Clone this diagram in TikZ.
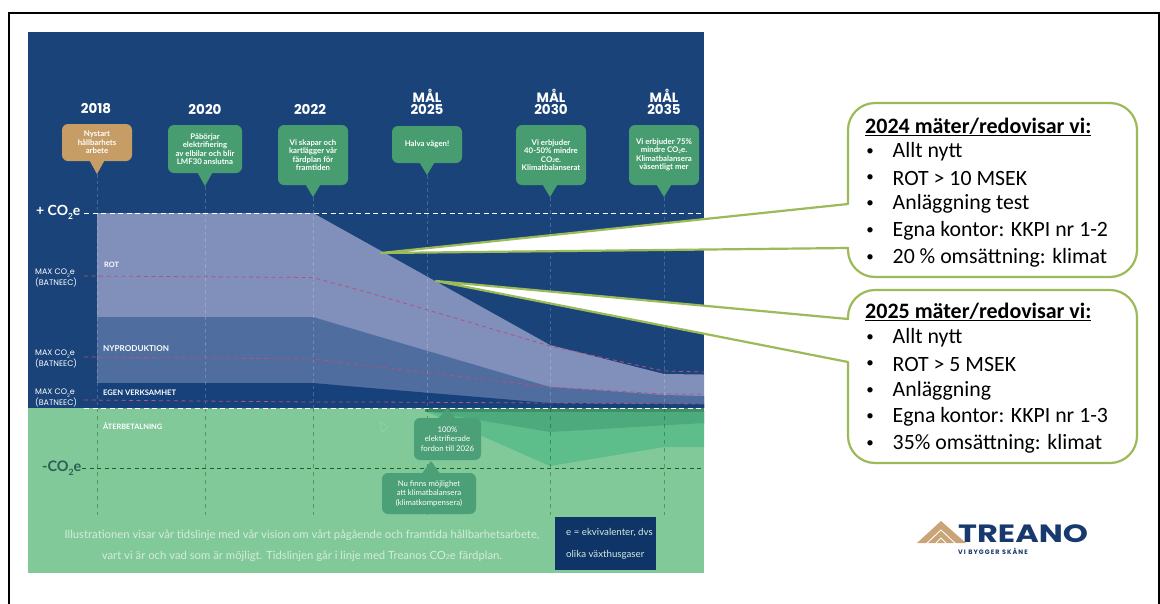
\documentclass[tikz,border=0pt]{standalone}
\usepackage{fontspec}
\usepackage{graphicx}
\setmainfont{Lato}
\newfontfamily\headf{Poppins}
\newfontfamily\callf{Carlito}
\newfontfamily\spacedf[LetterSpace=17]{Poppins}
\newcommand{\fs}[2]{\fontsize{#1}{#2}\selectfont}
\newcommand{\COe}{CO\raisebox{-0.55ex}{\scalebox{.6}{2}}e}
\definecolor{navy}{HTML}{1A4379}
\definecolor{rotc}{HTML}{8090BB}
\definecolor{nyc}{HTML}{4F6D9E}
\definecolor{egc}{HTML}{17417A}
\definecolor{gbg}{HTML}{82C99A}
\definecolor{gmid}{HTML}{5DBE8B}
\definecolor{gdark}{HTML}{4DAA7D}
\definecolor{gstrip}{HTML}{3E8F66}
\definecolor{bub}{HTML}{479D6F}
\definecolor{bubb}{HTML}{4CA077}
\definecolor{tan}{HTML}{C79D66}
\definecolor{pinkd}{HTML}{B5507F}
\definecolor{olive}{HTML}{9BBB59}
\definecolor{boxn}{HTML}{0F3468}
\definecolor{foot}{HTML}{D3ECDA}
\definecolor{minusc}{HTML}{2C5F56}
\definecolor{logot}{HTML}{C9A477}
\definecolor{logon}{HTML}{17396D}
\tikzset{
  bubtext/.style={text=white,align=center,inner sep=0pt,font=\fs{7.8}{8.5}\bfseries},
  year/.style={text=white,align=center,inner sep=0pt,font=\headf\fs{13.5}{13}\bfseries},
  maxl/.style={text=white,align=left,anchor=west,inner sep=0pt,font=\headf\fs{8}{10.5}},
  band/.style={text=white,anchor=west,inner sep=0pt},
  pinkline/.style={draw=pinkd,line width=.8pt,dash pattern=on 4pt off 3.5pt},
  whiteline/.style={draw=white,line width=.9pt,dash pattern=on 5pt off 3.5pt},
  callout/.style={draw=olive,line width=2.2pt,fill=white,line join=round},
  calltext/.style={anchor=west,inner sep=0pt,text=black,font=\callf\fs{21.8}{24}},
  bullet/.style={anchor=center,inner sep=0pt,text=black,font=\callf\fs{15}{24}},
  foottext/.style={text=foot,inner sep=0pt,font=\fs{11.3}{13}},
  vgreen/.style={draw=black!70!green,opacity=.38,line width=.8pt,dash pattern=on 4pt off 4pt},
}
\newcommand{\bubble}[9]{% name x1 y1 x2 y2 tipx tipy color text
  \fill[#8,rounded corners=6pt] (#2,#3) rectangle (#4,#5);
  \fill[#8] (#6-7.5,#5-.5) -- (#6,#7) -- (#6+7.5,#5-.5) -- cycle;
  \node[bubtext] (#1) at ({(#2+#4)/2},{(#3+#5)/2}) {#9};
}
\newcommand{\bubbleup}[9]{%
  \fill[#8,rounded corners=6pt] (#2,#3) rectangle (#4,#5);
  \fill[#8] (#6-9,#3+.5) -- (#6,#7) -- (#6+9,#3+.5) -- cycle;
  \node[bubtext,font=\fs{7.8}{9.6}] (#1) at ({(#2+#4)/2},{(#3+#5)/2}) {#9};
}
\begin{document}
\begin{tikzpicture}[x=1pt,y=-1pt]
\useasboundingbox (0,0) rectangle (1160,603);
\fill[white] (0,0) rectangle (1160,603);
% frame
\draw[black,line width=2pt] (9,604) -- (9,13) -- (1159,13) -- (1159,604);
% panel
\fill[navy] (28,32) rectangle (704,408);
\fill[gbg] (28,408) rectangle (704,573);
% bands
\fill[rotc] (97,213) -- (313,213) -- (550,345) -- (664,374) -- (704,374.5) -- (704,408) -- (97,408) -- cycle;
\fill[nyc] (97,317) -- (313,317) -- (370,334) -- (550,387) -- (664,395) -- (704,396) -- (704,408) -- (97,408) -- cycle;
\fill[egc] (97,383) -- (313,383) -- (370,388) -- (550,403) -- (704,404) -- (704,408) -- (97,408) -- cycle;
% green zones
\fill[gmid] (425,411) -- (704,411) -- (704,447) -- (664,447) -- (550,466) -- cycle;
\fill[gdark] (425,411) -- (704,411) -- (704,423) -- (550,432) -- cycle;
\fill[gstrip] (425,408) -- (704,408) -- (704,412) -- (425,412) -- cycle;
% vertical dashed
\foreach \x/\y in {97/174,205/186,313/197,427/175,550/197,664/197}{
  \draw[white,opacity=.2,line width=.8pt,dash pattern=on 3.5pt off 3pt] (\x,\y) -- (\x,408);
  \draw[vgreen] (\x,408) -- (\x,515);
}
% pink lines
\draw[pinkline] (84,276) -- (313,277.5) -- (370,293) -- (550,346) -- (664,371) -- (704,372);
\draw[pinkline] (84,357) -- (313,359) -- (370,366) -- (550,387) -- (664,394) -- (704,394);
\draw[pinkline] (84,400) -- (313,402) -- (370,402) -- (550,403) -- (704,404);
% horizontal dashed
\draw[whiteline] (84,213) -- (704,213);
\draw[whiteline] (84,408) -- (704,408);
\draw[black!70!green,opacity=.8,line width=.9pt,dash pattern=on 4pt off 3.5pt] (82,468) -- (704,468);
% cursor mark
\draw[white,opacity=.3,line width=.4pt,dash pattern=on 1.5pt off 1pt] (380,422) -- (388,427) -- (382,433) -- cycle;
% years
\node[year] (y18) at (96,109) {2018};
\node[year] (y20) at (205,109) {2020};
\node[year] (y22) at (310,109) {2022};
\node[year] (y25) at (427,102) {MÅL\\[-1pt]2025};
\node[year] (y30) at (551,102) {MÅL\\[-1pt]2030};
\node[year] (y35) at (664,102) {MÅL\\[-1pt]2035};
% bubbles
\bubble{b18}{62}{124}{132}{161}{97}{174}{tan}{Nystart\\hållbarhets\\arbete}
\bubble{b20}{168}{125}{242}{173}{205}{186}{bub}{Påbörjar\\elektrifiering\\av elbilar och blir\\LMF30 anslutna}
\bubble{b22}{278}{125}{348}{185}{313}{197}{bub}{Vi skapar och\\kartlägger vår\\färdplan för\\framtiden}
\bubble{b25}{392}{126}{462}{163}{427}{175}{bub}{Halva vägen!}
\bubble{b30}{516}{125}{586}{185}{550}{197}{bub}{Vi erbjuder\\40-50\% mindre\\CO\raisebox{-.1ex}{\scalebox{.6}{2}}e.\\Klimatbalanserat}
\bubble{b35}{629}{125}{699}{185}{664}{197}{bub}{Vi erbjuder 75\%\\mindre CO\raisebox{-.1ex}{\scalebox{.6}{2}}e.\\Klimatbalansera\\väsentligt mer}
\bubbleup{b100}{414}{418}{481}{460}{447}{409}{bubb}{100\%\\elektrifierade\\fordon till 2026}
\bubbleup{bnu}{382}{473}{476}{514}{431}{461}{bubb}{Nu finns möjlighet\\att klimatbalansera\\(klimatkompensera)}
% left labels
\node[anchor=west,text=white,inner sep=0pt,font=\fs{14}{14}\bfseries] (plus) at (36,212) {+ \COe};
\node[anchor=west,text=minusc,inner sep=0pt,font=\fs{14.5}{14}\bfseries] (minus) at (42,468) {-\COe};
\node[maxl] (m1) at (35,278) {MAX \COe\\(BATNEEC)};
\node[maxl] (m2) at (35,359) {MAX \COe\\(BATNEEC)};
\node[maxl] (m3) at (35,398) {MAX \COe\\(BATNEEC)};
\node[band,font=\fs{7.4}{8}\bfseries] (rot) at (104,265) {ROT};
\node[band,font=\fs{8.1}{8}\bfseries] (ny) at (103,349) {NYPRODUKTION};
\node[band,font=\fs{7.6}{8}\bfseries] (eg) at (103,393) {EGEN VERKSAMHET};
\node[band,font=\fs{7.4}{8}\bfseries] (ab) at (103,426) {ÅTERBETALNING};
% footer
\node[foottext] (f1) at (302,535) {Illustrationen visar vår tidslinje med vår vision om vårt pågående och framtida hållbarhetsarbete,};
\node[foottext] (f2) at (302,556) {vart vi är och vad som är möjligt. Tidslinjen går i linje med Treanos CO\raisebox{-.1ex}{\scalebox{.6}{2}}e färdplan.};
\fill[boxn] (555,517) rectangle (656,570);
\node[text=foot,anchor=west,inner sep=0pt,font=\fs{9.7}{12}] (e1) at (566,533) {e = ekvivalenter, dvs};
\node[text=foot,anchor=west,inner sep=0pt,font=\fs{9.7}{12}] (e2) at (566,555) {olika växthusgaser};
% callouts
\draw[callout] (848,130) arc[start angle=180,end angle=270,radius=27] -- (1110,103) arc[start angle=270,end angle=360,radius=27] -- (1137,250) arc[start angle=0,end angle=90,radius=27] -- (875,277) arc[start angle=90,end angle=180,radius=27] -- (848,248) -- (381,253) -- (848,204) -- cycle;
\draw[callout] (848,317) arc[start angle=180,end angle=270,radius=27] -- (1110,290) arc[start angle=270,end angle=360,radius=27] -- (1137,436) arc[start angle=0,end angle=90,radius=27] -- (875,463) arc[start angle=90,end angle=180,radius=27] -- (848,362) -- (436,281) -- (848,319) -- cycle;
% callout text 1
\node[calltext,font=\callf\fs{22}{24}\bfseries] (c1h) at (865,127) {\underline{2024 mäter/redovisar vi:}};
\foreach \n/\yy/\t in {a/152/Allt nytt,b/178/ROT > 10 MSEK,c/204/Anläggning test,d/231/Egna kontor: KKPI nr 1-2,e/258/20 \% omsättning: klimat}{
  \node[bullet] (c1\n b) at (870,\yy) {•};
  \node[calltext] (c1\n) at (892.5,\yy) {\t};
}
% callout text 2
\node[calltext,font=\callf\fs{22}{24}\bfseries] (c2h) at (865,312) {\underline{2025 mäter/redovisar vi:}};
\foreach \n/\yy/\t in {a/338/Allt nytt,b/364/ROT > 5 MSEK,c/391/Anläggning,d/417/Egna kontor: KKPI nr 1-3,e/444/35\% omsättning: klimat}{
  \node[bullet] (c2\n b) at (870,\yy) {•};
  \node[calltext] (c2\n) at (892.5,\yy) {\t};
}
% logo
\fill[logot] (917,543) -- (941,521) -- (966,543) -- cycle;
\draw[white,line width=.9pt] (926,544) -- (941,530) -- (956,544);
\draw[white,line width=.9pt] (935,544) -- (941,538) -- (947,544);
\node[anchor=west,inner sep=0pt,text=logon,font=\headf\fs{25}{26}\bfseries] (tr) at (958,534) {\scalebox{1.28}[1]{TREANO}};
\node[anchor=west,inner sep=0pt,text=logon,font=\spacedf\fs{6.4}{7}\bfseries] (sk) at (958,551) {VI BYGGER SKÅNE};
\end{tikzpicture}
\end{document}
